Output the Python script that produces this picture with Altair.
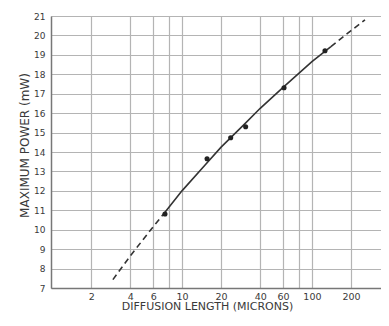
import altair as alt
import pandas as pd

# Measured points
pt_x = [7.4, 15.6, 23.7, 30.9, 61, 126]
pt_y = [10.81, 13.65, 14.73, 15.3, 17.31, 19.21]

# Fitted curve: lower dashed extrapolation, solid fit, upper dashed extrapolation
low_x = [2.94, 4, 6, 7.4]
low_y = [7.43, 8.65, 10.15, 10.9]
mid_x = [7.4, 10, 15, 20, 30, 40, 60, 100, 140]
mid_y = [10.9, 12.0, 13.32, 14.25, 15.41, 16.25, 17.33, 18.65, 19.42]
up_x = [140, 200, 256]
up_y = [19.42, 20.25, 20.8]

x_grid = [2, 4, 6, 8, 10, 20, 40, 60, 80, 100, 200]
y_ticks = list(range(7, 22))

FONT = "DejaVu Sans"
TXT = "#3a3a3a"

pts = pd.DataFrame({"x": pt_x, "y": pt_y})
low = pd.DataFrame({"x": low_x, "y": low_y})
mid = pd.DataFrame({"x": mid_x, "y": mid_y})
up = pd.DataFrame({"x": up_x, "y": up_y})

xscale = alt.Scale(type="log", domain=[0.982, 340], nice=False)
yscale = alt.Scale(domain=[7, 21], nice=False, zero=False)

xaxis = alt.Axis(
    values=x_grid, tickCount=40,
    labelExpr="(datum.value == 8 || datum.value == 80) ? '' : format(datum.value, 'd')",
    title="DIFFUSION LENGTH (MICRONS)",
    ticks=False, labelPadding=3, labelFontSize=9.5, labelFont=FONT, labelColor=TXT,
    labelOverlap=False,
    titleFont=FONT, titleFontSize=11, titleFontWeight="normal", titleColor=TXT,
    titleX=156, titleY=18.5, titleAnchor="start", titleAlign="center", titleBaseline="middle",
    grid=True, gridColor="#b4b4b4", gridWidth=1.2,
    domainColor="#777", domainWidth=1.5, labelFlush=False,
)
yaxis = alt.Axis(
    values=y_ticks, tickCount=40, format="d",
    title="MAXIMUM POWER (mW)",
    ticks=False, labelPadding=6, labelFontSize=9, labelFont=FONT, labelColor=TXT,
    labelOverlap=False,
    titleFont=FONT, titleFontSize=12, titleFontWeight="normal", titleColor=TXT,
    titleX=-27, titleY=129, titleAngle=270, titleAlign="center", titleBaseline="middle",
    grid=True, gridColor="#b4b4b4", gridWidth=1.2,
    domainColor="#777", domainWidth=1.5, labelFlush=False,
)

base_x = alt.X("x:Q", scale=xscale, axis=xaxis)
base_y = alt.Y("y:Q", scale=yscale, axis=yaxis)

lower = alt.Chart(low).mark_line(color="#333", strokeWidth=1.6, strokeDash=[6, 4]).encode(x=base_x, y=base_y)
middle = alt.Chart(mid).mark_line(color="#333", strokeWidth=1.6).encode(x="x:Q", y="y:Q")
upper = alt.Chart(up).mark_line(color="#333", strokeWidth=1.6, strokeDash=[6, 4]).encode(x="x:Q", y="y:Q")
dots = alt.Chart(pts).mark_point(filled=True, color="#222", size=26, opacity=1).encode(x="x:Q", y="y:Q")

chart = alt.layer(lower, middle, upper, dots).properties(
    width=330, height=272,
    autosize=alt.AutoSizeParams(type="none"),
    padding={"left": 43, "top": 8, "right": 0, "bottom": 24},
).configure_view(stroke=None).configure(background="white")

chart.save("out.html", embed_options={"renderer": "svg", "actions": False})
